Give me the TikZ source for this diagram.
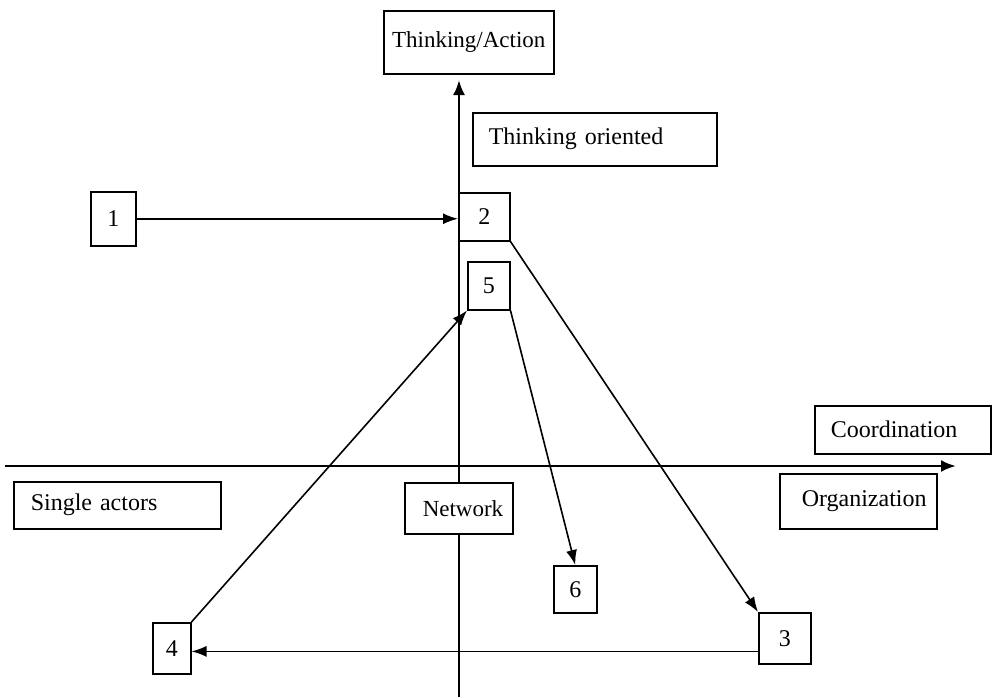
\documentclass[tikz,border=0pt]{standalone}
\usepackage{fontspec}
\setmainfont{Liberation Serif}
\usetikzlibrary{arrows.meta,calc}
\begin{document}
\begin{tikzpicture}[x=1pt,y=-1pt,
  txt/.style={font=\fontsize{24}{28}\selectfont},
  smalltxt/.style={font=\fontsize{23}{27}\selectfont},
  box/.style={draw,fill=white,line width=1.5pt,inner sep=0pt,anchor=north west},
  lbox/.style={box,align=left},
  axis/.style={line width=2.5pt,-{Latex[length=15pt,width=12pt]}},
  link/.style={line width=1.6pt,-{Latex[length=15pt,width=11pt]}}]
  \useasboundingbox (0,0) rectangle (994,697);

  % axes
  \coordinate (vbot) at (459,697);
  \coordinate (vtop) at (459,80);
  \coordinate (hleft) at (5,466);
  \coordinate (hright) at (956,466);
  \draw[axis] (vbot) -- (vtop);
  \draw[axis] (hleft) -- (hright);

  % labelled boxes
  \node[box,smalltxt,minimum width=170pt,minimum height=63pt] (ta) at (383,10) {\raisebox{3pt}{Thinking/Action}};
  \node[lbox,txt,minimum width=244pt,minimum height=53pt,text width=212pt] (to) at (472,112) {Thinking oriented};
  \node[lbox,txt,minimum width=176pt,minimum height=48pt,text width=144pt] (co) at (814,405) {Coordination};
  \node[lbox,txt,minimum width=157pt,minimum height=55pt,text width=113pt] (org) at (779,473) {Organization};
  \node[lbox,txt,minimum width=207pt,minimum height=47pt,text width=173pt] (sa) at (13,481) {Single actors};
  \node[lbox,smalltxt,minimum width=108pt,minimum height=51pt,text width=72pt] (net) at (404,482) {Network};

  % numbered steps
  \node[box,txt,minimum width=45pt,minimum height=54pt] (b1) at (90,191) {1};
  \node[box,txt,minimum width=51pt,minimum height=48pt] (b2) at (458,192) {2};
  \node[box,txt,minimum width=52pt,minimum height=51pt] (b3) at (758,612) {3};
  \node[box,txt,minimum width=38pt,minimum height=51pt] (b4) at (152,622) {4};
  \node[box,txt,minimum width=42pt,minimum height=48pt] (b5) at (467,261) {5};
  \node[box,txt,minimum width=43pt,minimum height=47pt] (b6) at (553,565) {6};

  % connectors between steps
  \draw[link] (b1.east) -- (b1.east -| b2.west);
  \draw[link] (b2.south east) -- (b3.north west);
  \coordinate (b3out) at ($(b3.south west)!0.25!(b3.north west)$);
  \draw[link] (b3out) -- (b3out -| b4.east);
  \draw[link] (b4.north east) -- (b5.south west);
  \draw[link] (b5.south east) -- (b6.north);
\end{tikzpicture}
\end{document}
